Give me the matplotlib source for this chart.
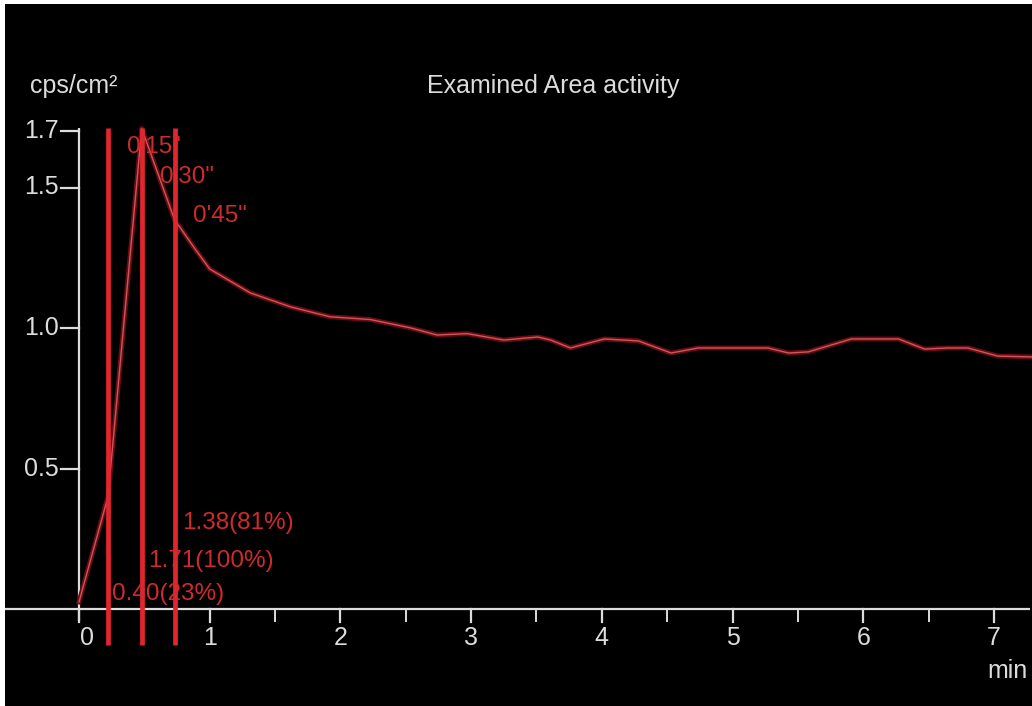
import matplotlib
matplotlib.use('Agg')
import matplotlib.pyplot as plt

# activity curve (minutes, cps/cm2)
time_min = [0.0, 0.222, 0.48, 0.735, 0.77, 0.89, 1.00, 1.31, 1.62, 1.92, 2.23, 2.54,
            2.74, 2.97, 3.25, 3.51, 3.61, 3.76, 4.02, 4.28, 4.53, 4.74, 5.27, 5.43,
            5.58, 5.91, 6.27, 6.47, 6.65, 6.80, 7.03, 7.29]
activity = [0.025, 0.40, 1.71, 1.38, 1.36, 1.28, 1.21, 1.125, 1.075, 1.04, 1.03, 1.00,
            0.975, 0.98, 0.957, 0.968, 0.957, 0.929, 0.961, 0.954, 0.911, 0.929, 0.929, 0.911,
            0.915, 0.961, 0.961, 0.925, 0.929, 0.929, 0.900, 0.897]

marker_times = [0.222, 0.48, 0.735]
marker_names = ["0'15\"", "0'30\"", "0'45\""]
marker_values = ["0.40(23%)", "1.71(100%)", "1.38(81%)"]

y_ticks = [0.5, 1.0, 1.5, 1.7]
y_tick_labels = ['0.5', '1.0', '1.5', '1.7']
x_major = [0, 1, 2, 3, 4, 5, 6, 7]
x_minor = [1.5, 2.5, 3.5, 4.5, 5.5, 6.5]

W, H = 1032, 706
X0, XS = 79.0, 130.7   # pixel of t=0, pixels per minute
Y0, YS = 609.0, 281.0  # pixel of v=0, pixels per unit

def dx(px):
    return (px - X0) / XS

def dy(py):
    return (Y0 - py) / YS

plt.rcParams['font.family'] = ['Liberation Sans Narrow', 'Liberation Sans', 'DejaVu Sans']
FS = 18
WHITE = '#dcdcdc'
RED = '#e3262e'
TXT_RED = '#cf2a2e'

fig = plt.figure(figsize=(W / 100, H / 100), dpi=100, facecolor='white')
ax = fig.add_axes([5 / W, 0, (W - 5) / W, (H - 4) / H])
ax.set_facecolor('black')
ax.set_xlim(dx(5), dx(W))
ax.set_ylim(dy(H), dy(4))
for sp in ax.spines.values():
    sp.set_visible(False)
ax.set_xticks([])
ax.set_yticks([])

# axes lines
ax.plot([dx(5), dx(1030)], [0, 0], color=WHITE, lw=1.6, solid_capstyle='butt')
ax.plot([0, 0], [dy(621), 1.71], color=WHITE, lw=1.6, solid_capstyle='butt')

for v, lab in zip(y_ticks, y_tick_labels):
    ax.plot([dx(61), 0], [v, v], color=WHITE, lw=1.6)
    ax.text(dx(59), v, lab, color=WHITE, fontsize=FS, ha='right', va='center')

for t in x_major:
    ax.plot([t, t], [0, dy(622)], color=WHITE, lw=1.6)
    xoff = 8 if t == 0 else 0
    ax.text(t + xoff / XS, dy(638), str(t), color=WHITE, fontsize=FS, ha='center', va='center')
for t in x_minor:
    ax.plot([t, t], [dy(611), dy(621)], color=WHITE, lw=1.4)

ax.text(dx(1028), dy(671), 'min', color=WHITE, fontsize=FS, ha='right', va='center')
ax.text(dx(30), dy(86), 'cps/cm\u00b2', color=WHITE, fontsize=FS, ha='left', va='center')
ax.text(dx(553), dy(86), 'Examined Area activity', color=WHITE, fontsize=FS, ha='center', va='center')

# curve with a dark red glow
ax.plot(time_min, activity, color='#6a0c12', lw=3.5, zorder=3)
ax.plot(time_min, activity, color='#c8585c', lw=1.0, zorder=4)

# marker lines
for t in marker_times:
    ax.plot([t, t], [dy(645), dy(128)], color=RED, lw=3.4, zorder=5, solid_capstyle='butt')

name_pos = [(127, 147), (160, 177), (193, 216)]
value_pos = [(112, 594), (148, 561), (182, 523)]
for s, (px, py) in zip(marker_names, name_pos):
    ax.text(dx(px), dy(py), s, color=TXT_RED, fontsize=17.5, ha='left', va='center', zorder=6)
for s, (px, py) in zip(marker_values, value_pos):
    ax.text(dx(px), dy(py), s, color=TXT_RED, fontsize=17.5, ha='left', va='center', zorder=6)

fig.savefig('out.png', dpi=100, facecolor=fig.get_facecolor())
